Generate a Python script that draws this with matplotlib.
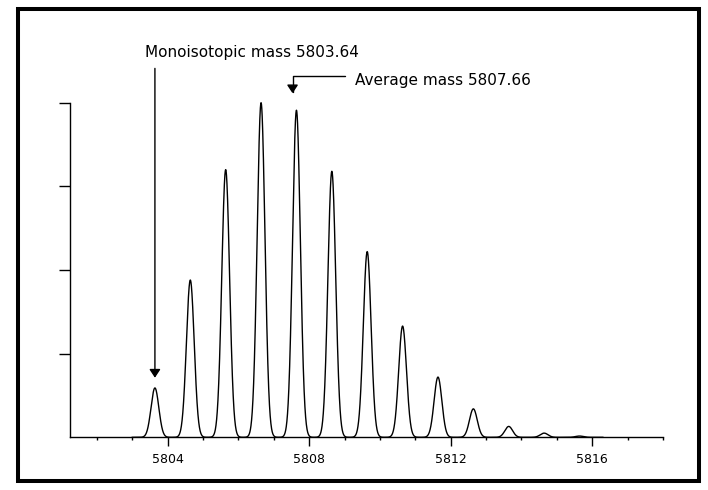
import matplotlib
matplotlib.use("Agg")
import matplotlib.pyplot as plt
from matplotlib.patches import Rectangle
from matplotlib.ticker import MultipleLocator, FormatStrFormatter
import numpy as np

# isotope peaks (mass, relative height on a 0..4 scale)
peak_mass = [5803.64, 5804.64, 5805.64, 5806.64, 5807.64, 5808.64, 5809.64,
             5810.64, 5811.64, 5812.64, 5813.64, 5814.64, 5815.64]
peak_height = [0.59, 1.88, 3.20, 4.00, 3.91, 3.18, 2.22,
               1.33, 0.72, 0.34, 0.13, 0.05, 0.015]

mono_mass = 5803.64
avg_mass = 5807.66
avg_arrow_mass = 5807.53   # arrow sits a little left of the quoted value
mono_label = f"Monoisotopic mass {mono_mass:.2f}"
avg_label = f"Average mass {avg_mass:.2f}"

peak_sigma = 0.11  # line shape width (Da)

# profile trace built from the peak list
mz = np.linspace(5803.0, 5816.3, 6000)
intensity = np.zeros_like(mz)
for m, h in zip(peak_mass, peak_height):
    intensity += h * np.exp(-0.5 * ((mz - m) / peak_sigma) ** 2)

W, H = 708, 490
fig = plt.figure(figsize=(W / 100, H / 100), dpi=100)
ax = fig.add_axes([70 / W, 1 - 437.3 / H, (663 - 70) / W, (437.3 - 102.7) / H])

ax.plot(mz, intensity, color="black", lw=1.0, clip_on=False)

ax.set_xlim(5801.24, 5818.0)
ax.set_ylim(0, 4)
ax.spines["top"].set_visible(False)
ax.spines["right"].set_visible(False)
for s in ("left", "bottom"):
    ax.spines[s].set_linewidth(1.0)

ax.xaxis.set_major_locator(MultipleLocator(4))
ax.xaxis.set_minor_locator(MultipleLocator(1))
ax.xaxis.set_major_formatter(FormatStrFormatter("%d"))
ax.set_yticks([1, 2, 3, 4])
ax.set_yticklabels([])
ax.tick_params(axis="x", which="major", length=6.5, width=1.0, pad=5, labelsize=9)
ax.tick_params(axis="x", which="minor", length=2.5, width=1.0)
ax.tick_params(axis="y", which="major", length=8, width=1.0)

arrow_style = "-|>,head_length=0.5,head_width=0.33"

# monoisotopic arrow and label
ax.annotate("", xy=(mono_mass, 0.712), xytext=(mono_mass, 4.41),
            arrowprops=dict(arrowstyle=arrow_style, mutation_scale=10,
                            color="black", lw=1.0, shrinkA=0, shrinkB=0),
            annotation_clip=False)
fig.text(145 / W, 1 - 52.7 / H, mono_label, fontsize=11, va="center", ha="left")

# average mass bent arrow and label
ax.annotate("", xy=(avg_arrow_mass, 4.112), xytext=(5809.01, 4.319),
            arrowprops=dict(arrowstyle=arrow_style, mutation_scale=10,
                            color="black", lw=1.0, shrinkA=0, shrinkB=0,
                            connectionstyle="angle,angleA=180,angleB=90,rad=0"),
            annotation_clip=False)
fig.text(355 / W, 1 - 80.7 / H, avg_label, fontsize=11, va="center", ha="left")

# thick frame round the picture
fig.patches.append(Rectangle((18 / W, 1 - 481 / H), (699 - 18) / W, (481 - 9) / H,
                             transform=fig.transFigure, fill=False,
                             edgecolor="black", lw=2.9))

fig.savefig("out.png", dpi=100)
